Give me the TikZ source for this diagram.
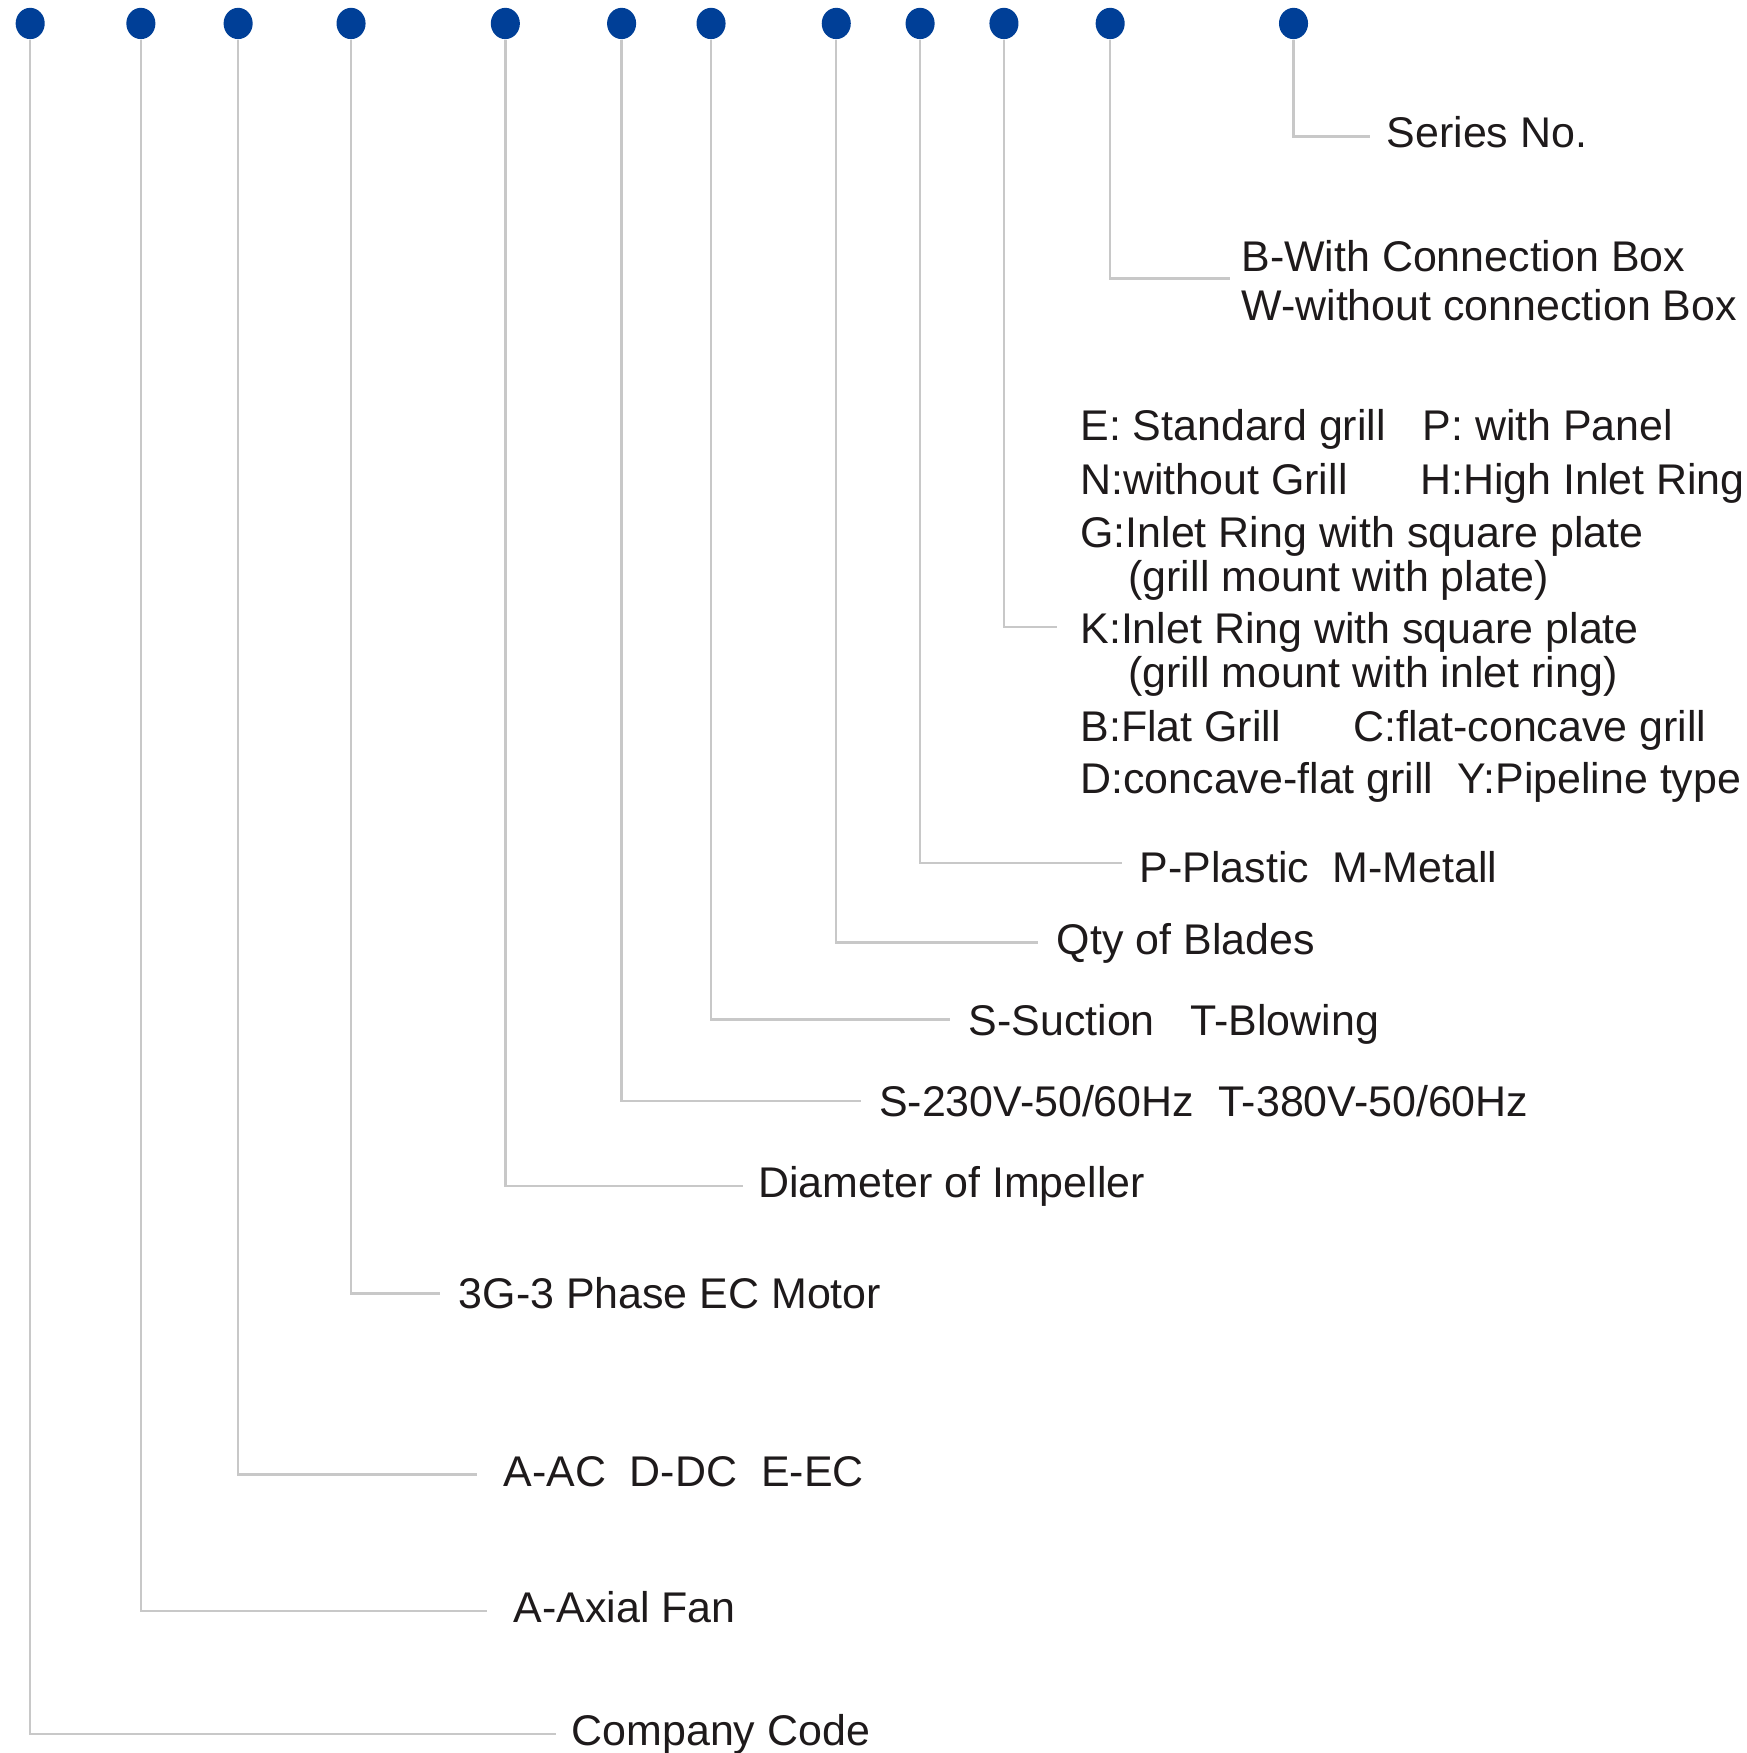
\documentclass[tikz,border=0pt]{standalone}
\usepackage{fontspec}
\setmainfont{Liberation Sans}
\usetikzlibrary{shapes.geometric}
\definecolor{dotblue}{RGB}{0,63,151}
\definecolor{linegray}{RGB}{200,200,200}
\definecolor{txtc}{RGB}{30,26,27}
\begin{document}
\begin{tikzpicture}[x=0.5pt,y=-0.5pt,
  dotn/.style={ellipse,fill=dotblue,inner sep=0pt,minimum width=13pt,minimum height=14pt},
  conn/.style={draw=linegray,line width=1.1pt},
  lbl/.style={anchor=base west,inner sep=0pt,font=\fontsize{19.2}{22}\selectfont,text=txtc}]
\useasboundingbox (0,0) rectangle (1562,1568);
% dots
\node[dotn] (d1) at (27,21) {};
\node[dotn] (d2) at (126,21) {};
\node[dotn] (d3) at (213,21) {};
\node[dotn] (d4) at (314,21) {};
\node[dotn] (d5) at (452,21) {};
\node[dotn] (d6) at (556,21) {};
\node[dotn] (d7) at (636,21) {};
\node[dotn] (d8) at (748,21) {};
\node[dotn] (d9) at (823,21) {};
\node[dotn] (d10) at (898,21) {};
\node[dotn] (d11) at (993,21) {};
\node[dotn] (d12) at (1157,21) {};
% line ends
\coordinate (e1) at (497,1551);
\coordinate (e2) at (436,1441);
\coordinate (e3) at (427,1319);
\coordinate (e4) at (394,1157);
\coordinate (e5) at (665,1061);
\coordinate (e6) at (770,985);
\coordinate (e7) at (850,912);
\coordinate (e8) at (928,843);
\coordinate (e9) at (1004,772);
\coordinate (e10) at (945,561);
\coordinate (e11) at (1100,249);
\coordinate (e12) at (1225,122);
\foreach \i in {1,...,12} {\draw[conn] (d\i) |- (e\i);}
% labels
\node[lbl] (t1) at (511,1561) {Company Code};
\node[lbl] (t2) at (459,1451) {A-Axial Fan};
\node[lbl] (t3) at (450,1330) {A-AC~~D-DC~~E-EC};
\node[lbl] (t4) at (410,1170) {3G-3 Phase EC Motor};
\node[lbl] (t5) at (678,1071) {Diameter of Impeller};
\node[lbl] (t6) at (786,999) {S-230V-50/60Hz~~T-380V-50/60Hz};
\node[lbl] (t7) at (866,926) {S-Suction~~~T-Blowing};
\node[lbl] (t8) at (945,854) {Qty of Blades};
\node[lbl] (t9) at (1019,789) {P-Plastic~~M-Metall};
\node[lbl] (t10a) at (966,394) {E: Standard grill};
\node[lbl] (t10b) at (1272,394) {P: with Panel};
\node[lbl] (t10c) at (966,442) {N:without Grill};
\node[lbl] (t10d) at (1270,442) {H:High Inlet Ring};
\node[lbl] (t10e) at (966,490) {G:Inlet Ring with square plate};
\node[lbl] (t10f) at (1009,529) {(grill mount with plate)};
\node[lbl] (t10g) at (966,576) {K:Inlet Ring with square plate};
\node[lbl] (t10h) at (1009,615) {(grill mount with inlet ring)};
\node[lbl] (t10i) at (966,663) {B:Flat Grill};
\node[lbl] (t10j) at (1210,663) {C:flat-concave grill};
\node[lbl] (t10k) at (966,710) {D:concave-flat grill};
\node[lbl] (t10l) at (1303,710) {Y:Pipeline type};
\node[lbl] (t11a) at (1110,243) {B-With Connection Box};
\node[lbl] (t11b) at (1110,287) {W-without connection Box};
\node[lbl] (t12) at (1240,132) {Series No.};
\end{tikzpicture}
\end{document}
